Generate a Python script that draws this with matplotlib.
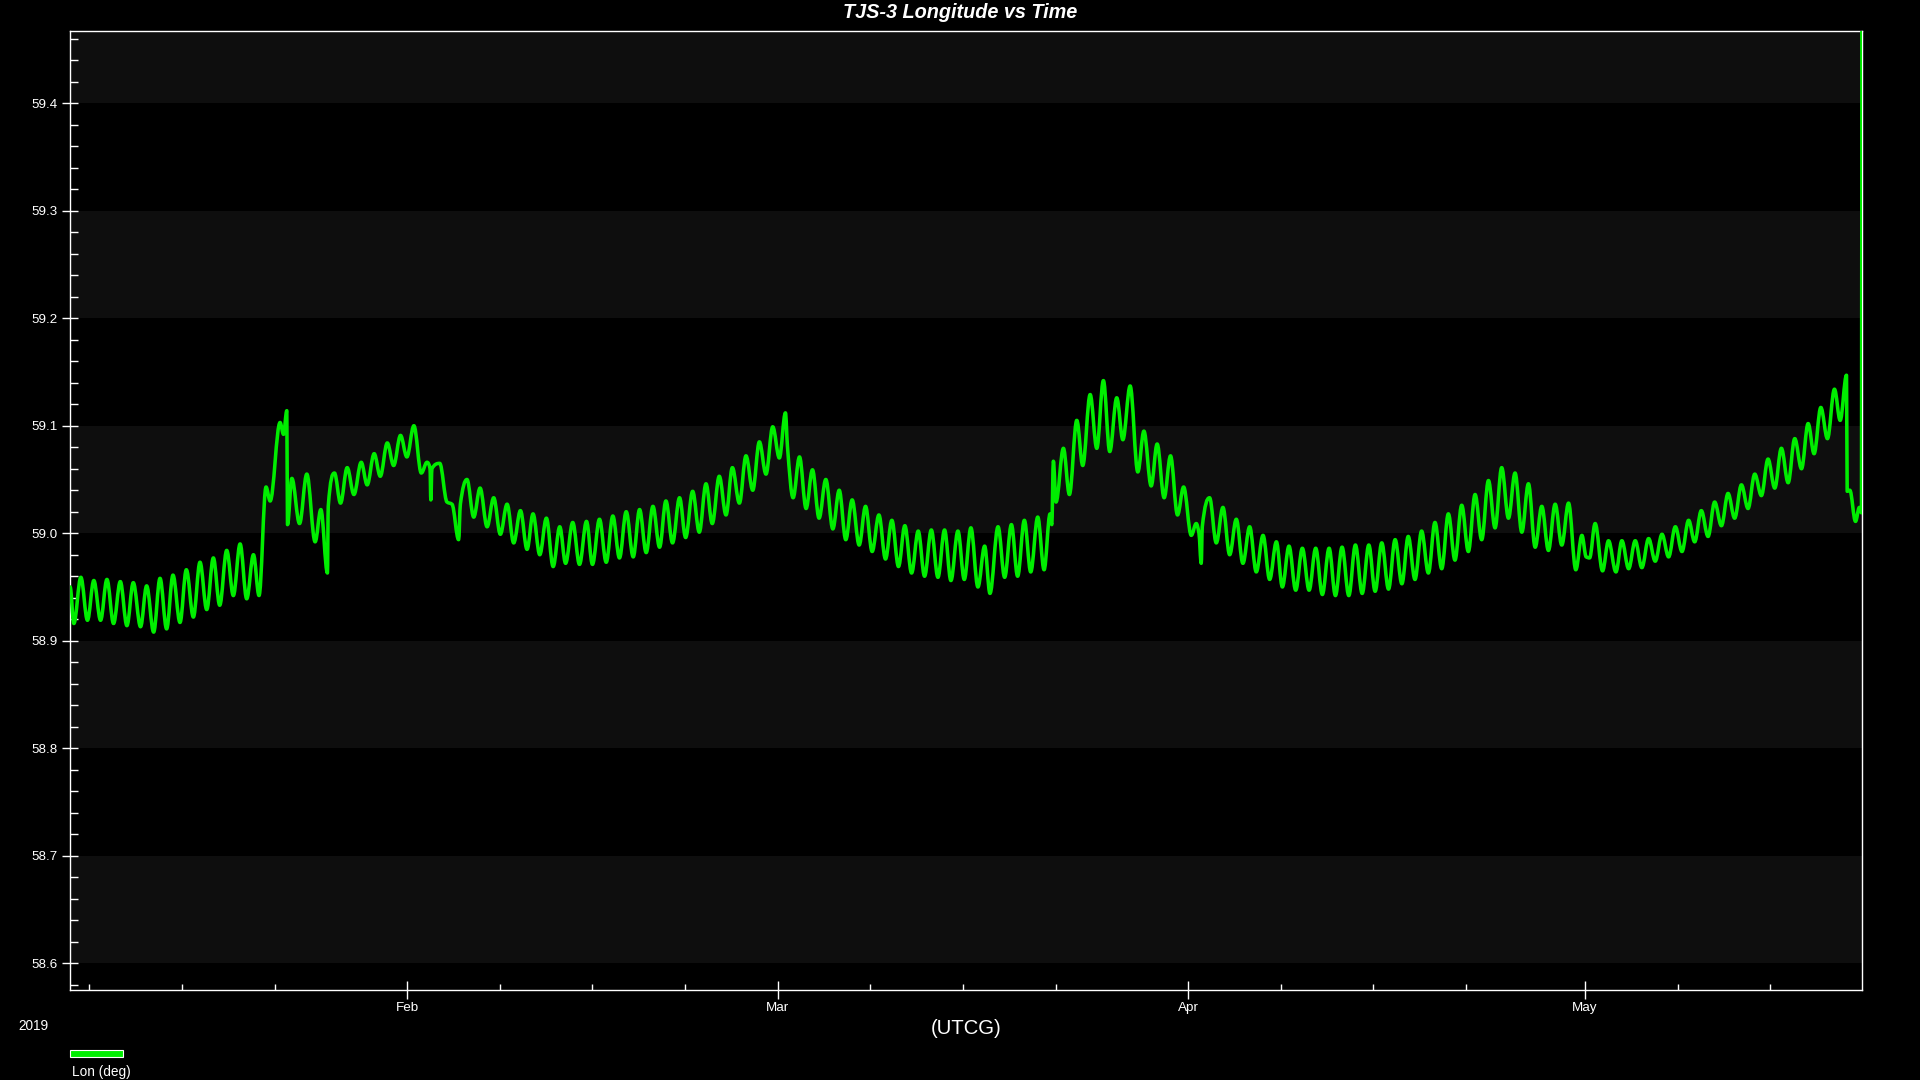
import numpy as np
import matplotlib
matplotlib.use("Agg")
import matplotlib.pyplot as plt
import matplotlib.dates as mdates
from matplotlib.path import Path
from matplotlib.patches import PathPatch, Rectangle
from matplotlib.ticker import MultipleLocator, FormatStrFormatter

plt.rcParams['font.family'] = ['Liberation Sans', 'DejaVu Sans']

# ---------------- data ----------------
title = "TJS-3 Longitude vs Time"
series_name = "Lon (deg)"
x_label = "(UTCG)"
year_label = "2019"
epoch = "2019-01-01"

# time in days since 2019-01-01 00:00 UTCG
t_days = [
    5.55, 5.83, 6.36, 6.86, 7.34, 7.85, 8.33, 8.83, 9.34, 9.84, 10.32, 10.87, 11.33, 11.86,
    12.34, 12.84, 13.32, 13.85, 14.33, 14.86, 15.36, 15.87, 16.37, 16.85, 17.38, 17.88,
    18.39, 18.89, 19.40, 19.82, 20.35, 20.66, 21.41, 21.67, 21.92, 21.97, 22.30, 22.88,
    23.43, 24.06, 24.49, 24.99, 25.05, 25.52, 25.98, 26.48, 26.99, 27.54, 27.99, 28.52,
    28.98, 29.51, 29.99, 30.51, 30.99, 31.52, 32.08, 32.51, 32.74, 32.80, 32.88, 33.47,
    34.02, 34.40, 34.90, 35.03, 35.53, 36.04, 36.52, 37.05, 37.55, 38.05, 38.56, 39.06,
    39.57, 40.07, 40.52, 41.03, 41.53, 42.04, 42.54, 42.98, 43.52, 44.03, 44.56, 45.01,
    45.54, 46.05, 46.55, 47.05, 47.56, 48.09, 48.57, 49.07, 49.58, 50.08, 50.56, 51.06,
    51.59, 52.05, 52.58, 53.08, 53.59, 54.06, 54.59, 55.10, 55.58, 56.11, 56.61, 57.12,
    57.62, 58.12, 58.63, 59.13, 59.59, 59.74, 60.17, 60.65, 61.15, 61.63, 62.13, 62.64,
    63.17, 63.65, 64.15, 64.63, 65.16, 65.64, 66.14, 66.65, 67.15, 67.63, 68.13, 68.61,
    69.12, 69.62, 70.10, 70.61, 71.11, 71.61, 72.09, 72.62,
    73.10, 73.60, 74.13, 74.64, 75.04, 75.65, 76.15, 76.66, 77.13, 77.64, 78.12, 78.65,
    79.13, 79.58, 79.71, 79.83, 80.03, 80.59, 81.04, 81.60, 82.05, 82.61, 83.11, 83.61,
    84.09, 84.62, 85.08, 85.63, 86.21, 86.67, 87.22, 87.67, 88.20, 88.68, 89.21, 89.67,
    90.25, 90.62, 90.83, 91.00, 91.08, 91.63, 92.14, 92.64, 93.15, 93.65, 94.15, 94.66,
    95.16, 95.67, 96.17, 96.68, 97.13, 97.63, 98.14, 98.64, 99.15, 99.65, 100.15, 100.66,
    101.14, 101.64, 102.15, 102.65, 103.16, 103.66, 104.14, 104.64, 105.15, 105.65, 106.16,
    106.64, 107.15, 107.65, 108.16, 108.66, 109.17, 109.67, 110.17, 110.68, 111.18, 111.69,
    112.19, 112.70, 113.20, 113.70, 114.21, 114.71, 115.22, 115.72, 116.23, 116.73, 117.23,
    117.74, 118.24, 118.75, 119.30, 119.76, 120.08, 120.34, 120.76, 121.32, 121.77, 122.33,
    122.78, 123.29, 123.79, 124.29, 124.80, 125.30, 125.81, 126.31, 126.82, 127.32, 127.82,
    128.28, 128.78, 129.29, 129.79, 130.30, 130.80, 131.30, 131.81, 132.31, 132.82, 133.32,
    133.82, 134.33, 134.83, 135.34, 135.84, 136.35, 136.85, 137.30, 137.81, 138.31, 138.84,
    139.27, 139.75, 139.80, 140.00, 140.43, 140.72, 140.88, 140.93,
]

lon_deg = [
    58.950, 58.916, 58.959, 58.919, 58.956, 58.919, 58.957, 58.916, 58.955, 58.914, 58.954, 58.913, 58.951, 58.908,
    58.958, 58.911, 58.961, 58.917, 58.966, 58.922, 58.973, 58.929, 58.977, 58.933, 58.984, 58.942,
    58.990, 58.939, 58.980, 58.942, 59.043, 59.030, 59.103, 59.092, 59.114, 59.008, 59.051, 59.009,
    59.055, 58.992, 59.022, 58.963, 59.025, 59.056, 59.028, 59.061, 59.036, 59.066, 59.045, 59.074,
    59.053, 59.084, 59.063, 59.091, 59.071, 59.100, 59.056, 59.066, 59.060, 59.031, 59.060, 59.065,
    59.029, 59.027, 58.994, 59.027, 59.050, 59.015, 59.042, 59.006, 59.033, 58.999, 59.027, 58.991,
    59.021, 58.985, 59.018, 58.980, 59.014, 58.969, 59.006, 58.972, 59.010, 58.971, 59.011, 58.971,
    59.013, 58.973, 59.016, 58.977, 59.020, 58.978, 59.022, 58.982, 59.025, 58.987, 59.030, 58.991,
    59.033, 58.996, 59.039, 59.001, 59.046, 59.009, 59.053, 59.017, 59.061, 59.028, 59.072, 59.040,
    59.085, 59.055, 59.099, 59.070, 59.112, 59.081, 59.033, 59.071, 59.023, 59.059, 59.014, 59.050,
    59.004, 59.040, 58.994, 59.031, 58.989, 59.025, 58.983, 59.017, 58.976, 59.012, 58.969, 59.007,
    58.963, 59.002, 58.960, 59.003, 58.959, 59.003, 58.956, 59.002,
    58.957, 59.005, 58.950, 58.988, 58.944, 59.006, 58.959, 59.008, 58.960, 59.012, 58.964, 59.015,
    58.966, 59.018, 59.008, 59.067, 59.029, 59.079, 59.036, 59.105, 59.063, 59.129, 59.079, 59.142,
    59.076, 59.126, 59.087, 59.137, 59.057, 59.095, 59.044, 59.083, 59.033, 59.072, 59.017, 59.043,
    58.998, 59.009, 59.000, 58.972, 59.006, 59.033, 58.991, 59.024, 58.980, 59.013, 58.972, 59.006,
    58.964, 58.998, 58.957, 58.992, 58.950, 58.988, 58.947, 58.986, 58.947, 58.986, 58.943, 58.986,
    58.942, 58.987, 58.942, 58.989, 58.944, 58.989, 58.946, 58.991, 58.948, 58.994, 58.953,
    58.997, 58.957, 59.002, 58.963, 59.010, 58.967, 59.018, 58.975, 59.026, 58.983, 59.036,
    58.994, 59.049, 59.005, 59.061, 59.014, 59.056, 59.001, 59.046, 58.987, 59.025, 58.984,
    59.027, 58.989, 59.028, 58.966, 58.998, 58.978, 58.977, 59.009, 58.965, 58.993, 58.964,
    58.993, 58.967, 58.993, 58.968, 58.995, 58.974, 58.999, 58.978, 59.006, 58.983, 59.012,
    58.992, 59.021, 58.997, 59.029, 59.007, 59.037, 59.014, 59.045, 59.023, 59.055, 59.035,
    59.069, 59.042, 59.079, 59.047, 59.088, 59.060, 59.102, 59.074, 59.117, 59.088, 59.134,
    59.105, 59.147, 59.039, 59.040, 59.011, 59.024, 59.019, 59.900,
]

y_ticks = [58.6, 58.7, 58.8, 58.9, 59.0, 59.1, 59.2, 59.3, 59.4]
y_range = (58.575, 59.467)
x_range_days = (5.54, 140.92)

# ---------------- styling ----------------
GREEN = "#00ee00"
BAND = "#0e0e0e"
W, H = 1920, 1080

fig = plt.figure(figsize=(19.2, 10.8), dpi=100, facecolor="black")
ax = fig.add_axes([70 / W, 90 / H, (1862 - 70) / W, (1080 - 31.3 - 90) / H])
ax.set_facecolor("black")
ax.xaxis_date()

base = mdates.date2num(np.datetime64(epoch))
x = base + np.asarray(t_days, dtype=float)
y = np.asarray(lon_deg, dtype=float)

# smooth monotone (PCHIP-style) cubic Bezier through the read points
h = np.diff(x)
d = np.diff(y) / h
m = np.zeros_like(y)
for k in range(1, len(y) - 1):
    if d[k - 1] * d[k] > 0:
        w1 = 2 * h[k] + h[k - 1]
        w2 = h[k] + 2 * h[k - 1]
        m[k] = (w1 + w2) / (w1 / d[k - 1] + w2 / d[k])
m[-1] = d[-1]
a = 0.36
verts = [(x[0], y[0])]
codes = [Path.MOVETO]
for i in range(len(x) - 1):
    hh = h[i]
    verts += [(x[i] + a * hh, y[i] + m[i] * a * hh),
              (x[i + 1] - a * hh, y[i + 1] - m[i + 1] * a * hh),
              (x[i + 1], y[i + 1])]
    codes += [Path.CURVE4] * 3
line = PathPatch(Path(verts, codes), fill=False, edgecolor=GREEN, lw=2.55,
                 joinstyle="round", capstyle="round", zorder=3)
ax.add_patch(line)

# alternating bands
for lo in y_ticks[::2]:
    ax.axhspan(lo, lo + 0.1, color=BAND, lw=0, zorder=0)
ax.axhspan(y_ticks[-1], y_range[1], color=BAND, lw=0, zorder=0)

ax.set_xlim(base + x_range_days[0], base + x_range_days[1])
ax.set_ylim(*y_range)

ax.set_yticks(y_ticks)
ax.yaxis.set_major_formatter(FormatStrFormatter("%.1f"))
ax.yaxis.set_minor_locator(MultipleLocator(0.02))
ax.xaxis.set_major_locator(mdates.MonthLocator())
ax.xaxis.set_major_formatter(mdates.DateFormatter("%b"))
ax.xaxis.set_minor_locator(mdates.DayLocator(bymonthday=[1, 8, 15, 22]))

for s in ax.spines.values():
    s.set_color("white")
    s.set_linewidth(1.0)

ax.tick_params(axis="both", which="both", colors="white", labelcolor="white", width=1.0)
ax.tick_params(axis="y", which="major", direction="inout", length=11.5, pad=3, labelsize=9.6)
ax.tick_params(axis="y", which="minor", direction="in", length=5.8)
ax.tick_params(axis="x", which="major", direction="inout", length=12.5, pad=2.5, labelsize=9.7)
ax.tick_params(axis="x", which="minor", direction="in", length=4.3)

ax.set_xlabel(x_label, color="white", fontsize=14.6)
ax.xaxis.set_label_coords(0.5, (1080 - 1028.5 - 90) / (1080 - 31.3 - 90))
ax.xaxis.label.set_va("center")

fig.text(0.5, 1 - 13 / H, title, color="white", fontsize=14.3, fontweight="bold",
         fontstyle="italic", ha="center", va="center")
fig.text(18.7 / W, 1 - 1026 / H, year_label, color="white", fontsize=9.8, ha="left", va="center")

fig.patches.append(Rectangle((70 / W, 1 - 1056.7 / H), 52.7 / W, 6.7 / H, transform=fig.transFigure,
                             facecolor=GREEN, edgecolor="white", lw=0.8))
fig.text(72 / W, 1 - 1071.7 / H, series_name, color="white", fontsize=9.8, ha="left", va="center")

fig.savefig("out.png", dpi=100, facecolor="black")
